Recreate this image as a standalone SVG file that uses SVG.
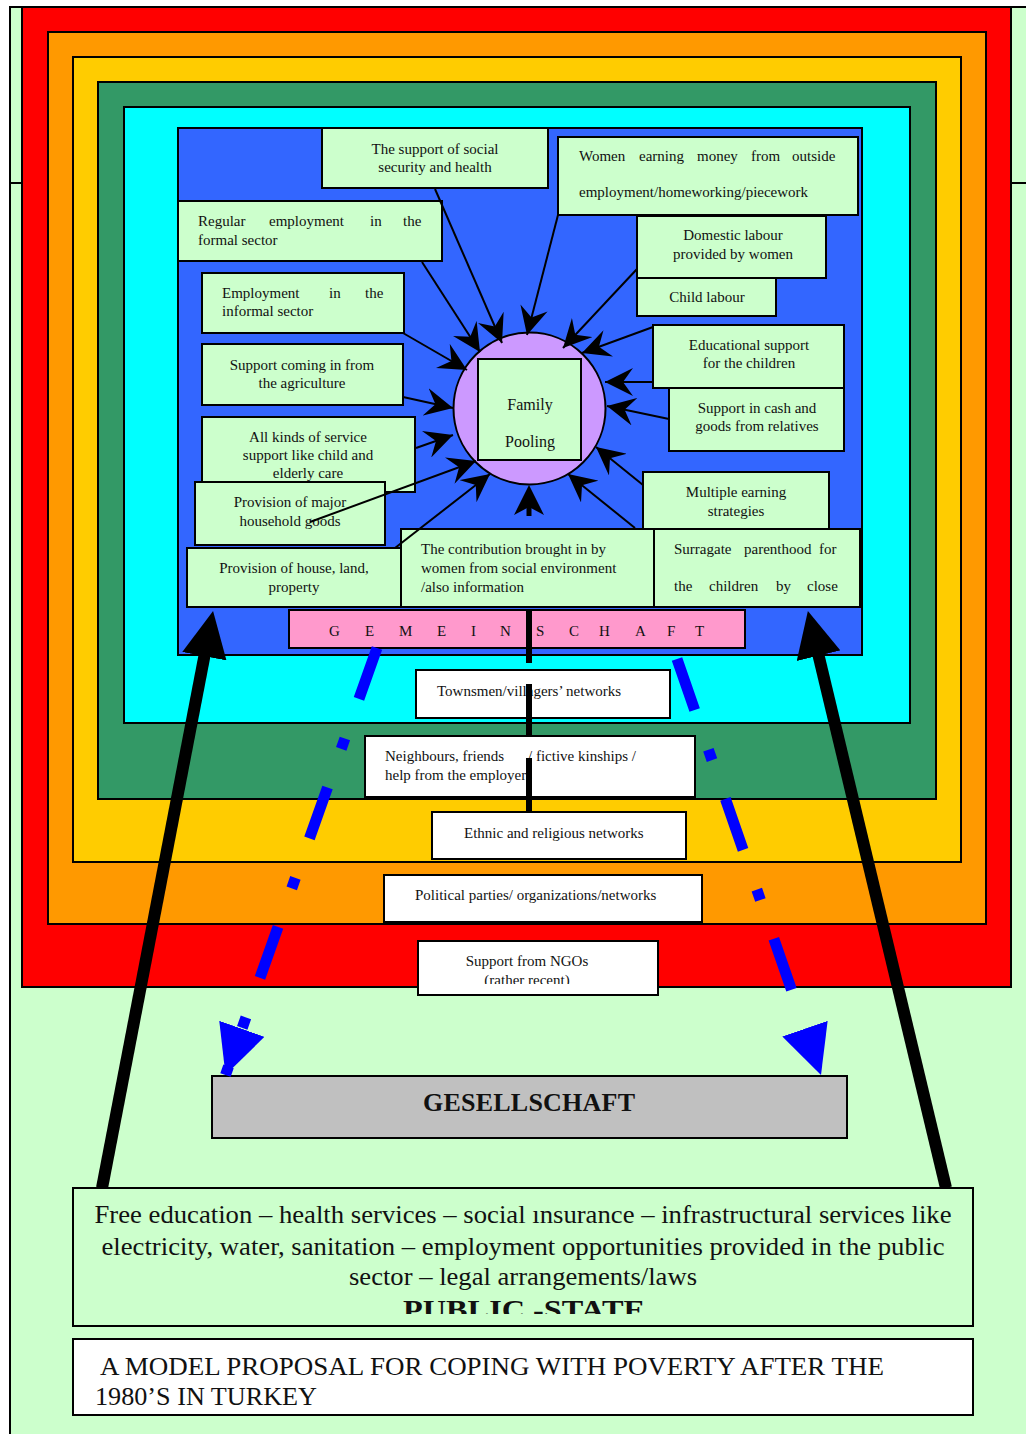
<svg xmlns="http://www.w3.org/2000/svg" width="1026" height="1434" viewBox="0 0 1026 1434">
<style>
.bx{fill:#CCFFCC;stroke:#000;stroke-width:2}
.wb{fill:#fff;stroke:#000;stroke-width:2}
.ring{stroke:#000;stroke-width:2}
.t{font-family:"Liberation Serif","Times New Roman",serif;font-size:15px;fill:#111}
.c{text-anchor:middle}
.f16{font-size:16px}
.big{font-size:25px}
.hd{font-size:26px;font-weight:bold}
.ps{font-size:28px;font-weight:bold}
.ln{stroke:#000;stroke-width:2;fill:none}
.bd{stroke:#0000FF;stroke-width:11;fill:none;stroke-dasharray:54 42 11 41}
.bk{stroke:#000;stroke-width:12;fill:none}
</style>
<defs>
<marker id="ah" markerUnits="userSpaceOnUse" viewBox="0 0 28 28" markerWidth="28" markerHeight="28" refX="28" refY="14" orient="auto"><path d="M0,0 L28,14 L0,28 L10,14 z" fill="#000"/></marker>
<marker id="ah2" markerUnits="userSpaceOnUse" viewBox="0 0 30 30" markerWidth="30" markerHeight="30" refX="10" refY="15" orient="auto"><path d="M0,0 L30,15 L0,30 L8,15 z" fill="#000"/></marker>
<marker id="bah" markerUnits="userSpaceOnUse" viewBox="0 0 49 48" markerWidth="49" markerHeight="48" refX="49" refY="24" orient="auto"><path d="M0,0 L49,24 L0,48 z" fill="#0000FF"/></marker>
<marker id="kah" markerUnits="userSpaceOnUse" viewBox="0 0 46 45" markerWidth="46" markerHeight="45" refX="6" refY="22.5" orient="auto"><path d="M0,0 L46,22.5 L0,45 z" fill="#000"/></marker>
<clipPath id="ngoclip"><rect x="418" y="941" width="240" height="43"/></clipPath>
<clipPath id="pubclip"><rect x="73" y="1188" width="900" height="126"/></clipPath>
</defs>

<g id="page">
<rect x="10" y="7" width="1020" height="1430" fill="#CCFFCC" stroke="#000" stroke-width="2"/>
<line x1="10" y1="183" x2="22" y2="183" stroke="#000" stroke-width="2"/>
<line x1="1011" y1="183" x2="1026" y2="183" stroke="#000" stroke-width="2"/>
</g>

<g id="rings">
<rect class="ring" x="22" y="7" width="989" height="980" fill="#FF0000"/>
<rect class="ring" x="48" y="32" width="938" height="892" fill="#FF9900"/>
<rect class="ring" x="73" y="57" width="888" height="805" fill="#FFCC00"/>
<rect class="ring" x="98" y="82" width="838" height="717" fill="#339966"/>
<rect class="ring" x="124" y="107" width="786" height="616" fill="#00FFFF"/>
<rect class="ring" x="178" y="128" width="684" height="527" fill="#3366FF"/>
</g>

<g id="gemeinschaft">
<rect x="289" y="610" width="456" height="38" fill="#FF99CC" stroke="#000" stroke-width="2"/>
<text class="t" x="329 365 399 437 471 500 536 569 599 635 667 695" y="636">GEMEINSCHAFT</text>
</g>

<g id="family-pooling">
<circle cx="529.5" cy="408.5" r="76" fill="#CC99FF" stroke="#000" stroke-width="2"/>
<rect class="bx" x="478" y="359" width="103" height="101"/>
<text class="t c f16" x="530" y="410">Family</text>
<text class="t c f16" x="530" y="447">Pooling</text>
</g>

<g id="n-social">
<rect class="bx" x="322" y="128" width="226" height="60"/>
<text class="t c" x="435" y="154">The support of social</text>
<text class="t c" x="435" y="172">security  and health</text>
</g>
<g id="n-regular">
<rect class="bx" x="178" y="201" width="264" height="60"/>
<text class="t" y="226"><tspan x="198">Regular</tspan><tspan x="269">employment</tspan><tspan x="370">in</tspan><tspan x="403">the</tspan></text>
<text class="t" x="198" y="245">formal sector</text>
</g>
<g id="n-informal">
<rect class="bx" x="202" y="273" width="202" height="60"/>
<text class="t" y="298"><tspan x="222">Employment</tspan><tspan x="329">in</tspan><tspan x="365">the</tspan></text>
<text class="t" x="222" y="316">informal sector</text>
</g>
<g id="n-agri">
<rect class="bx" x="202" y="344" width="201" height="61"/>
<text class="t c" x="302" y="370">Support coming in from</text>
<text class="t c" x="302" y="388">the agriculture</text>
</g>
<g id="n-allkinds">
<rect class="bx" x="202" y="417" width="213" height="75"/>
<text class="t c" x="308" y="442">All  kinds of  service</text>
<text class="t c" x="308" y="460">support like child and</text>
<text class="t c" x="308" y="478">elderly care</text>
</g>
<g id="n-household">
<rect class="bx" x="195" y="482" width="190" height="63"/>
<text class="t c" x="290" y="507">Provision of major</text>
<text class="t c" x="290" y="526">household  goods</text>
</g>
<g id="n-house">
<rect class="bx" x="187" y="548" width="214" height="59"/>
<text class="t c" x="294" y="573">Provision of house, land,</text>
<text class="t c" x="294" y="592">property</text>
</g>
<g id="n-contribution">
<rect class="bx" x="401" y="529" width="253" height="78"/>
<text class="t" x="421" y="554">The contribution brought in by</text>
<text class="t" x="421" y="573">women from social environment</text>
<text class="t" x="421" y="592">/also information</text>
</g>
<g id="n-surragate">
<rect class="bx" x="654" y="529" width="206" height="78"/>
<text class="t" y="554"><tspan x="674">Surragate</tspan><tspan x="744">parenthood</tspan><tspan x="819">for</tspan></text>
<text class="t" y="591"><tspan x="674">the</tspan><tspan x="709">children</tspan><tspan x="776">by</tspan><tspan x="807">close</tspan></text>
</g>
<g id="n-multiple">
<rect class="bx" x="643" y="472" width="186" height="57"/>
<text class="t c" x="736" y="497">Multiple earning</text>
<text class="t c" x="736" y="516">strategies</text>
</g>
<g id="n-cash">
<rect class="bx" x="669" y="388" width="175" height="63"/>
<text class="t c" x="757" y="413">Support in cash and</text>
<text class="t c" x="757" y="431">goods from relatives</text>
</g>
<g id="n-educational">
<rect class="bx" x="653" y="325" width="191" height="63"/>
<text class="t c" x="749" y="350">Educational support</text>
<text class="t c" x="749" y="368">for the children</text>
</g>
<g id="n-child">
<rect class="bx" x="637" y="278" width="139" height="38"/>
<text class="t c" x="707" y="302">Child labour</text>
</g>
<g id="n-domestic">
<rect class="bx" x="637" y="216" width="189" height="62"/>
<text class="t c" x="733" y="240">Domestic labour</text>
<text class="t c" x="733" y="259">provided by women</text>
</g>
<g id="n-women">
<rect class="bx" x="558" y="137" width="300" height="78"/>
<text class="t" y="161"><tspan x="579">Women</tspan><tspan x="639">earning</tspan><tspan x="697">money</tspan><tspan x="751">from</tspan><tspan x="792">outside</tspan></text>
<text class="t" x="579" y="197">employment/homeworking/piecework</text>
</g>

<g id="n-townsmen">
<rect class="wb" x="416" y="670" width="254" height="48"/>
<text class="t" x="437" y="696">Townsmen/villagers’ networks</text>
</g>
<g id="n-neighbours">
<rect class="wb" x="365" y="736" width="330" height="61"/>
<text class="t" y="761"><tspan x="385">Neighbours, friends</tspan><tspan x="528">/ fictive kinships /</tspan></text>
<text class="t" x="385" y="780">help from the employers</text>
</g>
<g id="n-ethnic">
<rect class="wb" x="432" y="812" width="254" height="47"/>
<text class="t" x="464" y="838">Ethnic and religious networks</text>
</g>
<g id="n-political">
<rect class="wb" x="384" y="875" width="318" height="47"/>
<text class="t" x="415" y="900">Political parties/ organizations/networks</text>
</g>
<g id="n-ngo">
<rect class="wb" x="418" y="941" width="240" height="54"/>
<g clip-path="url(#ngoclip)">
<text class="t c" x="527" y="966">Support from NGOs</text>
<text class="t c" x="527" y="985">(rather  recent)</text>
</g>
</g>

<g id="n-gesellschaft">
<rect x="212" y="1076" width="635" height="62" fill="#C0C0C0" stroke="#000" stroke-width="2"/>
<text class="t c hd" x="529" y="1111" textLength="212" lengthAdjust="spacing">GESELLSCHAFT</text>
</g>

<g id="connectors">
<line class="ln" x1="435" y1="189" x2="502" y2="343" marker-end="url(#ah)"/>
<line class="ln" x1="422" y1="262" x2="480" y2="352" marker-end="url(#ah)"/>
<line class="ln" x1="403" y1="333" x2="467" y2="370" marker-end="url(#ah)"/>
<line class="ln" x1="403" y1="397" x2="453" y2="408" marker-end="url(#ah)"/>
<line class="ln" x1="416" y1="448" x2="453" y2="435" marker-end="url(#ah)"/>
<line class="ln" x1="310" y1="522" x2="476" y2="461" marker-end="url(#ah)"/>
<line class="ln" x1="395" y1="548" x2="490" y2="474" marker-end="url(#ah)"/>
<line class="ln" x1="635" y1="528" x2="568" y2="474" marker-end="url(#ah)"/>
<line class="ln" x1="643" y1="485" x2="596" y2="447" marker-end="url(#ah)"/>
<line class="ln" x1="669" y1="419" x2="607" y2="406" marker-end="url(#ah)"/>
<line class="ln" x1="653" y1="382" x2="605" y2="382" marker-end="url(#ah)"/>
<line class="ln" x1="653" y1="327" x2="582" y2="353" marker-end="url(#ah)"/>
<line class="ln" x1="637" y1="269" x2="563" y2="348" marker-end="url(#ah)"/>
<line class="ln" x1="558" y1="215" x2="527" y2="335" marker-end="url(#ah)"/>
<line x1="529" y1="516" x2="529" y2="505" stroke="#000" stroke-width="5" marker-end="url(#ah2)"/>
<path d="M529,610 V811" stroke="#000" stroke-width="6" stroke-dasharray="53 21" fill="none"/>
<path class="bd" d="M377,648 L225.5,1075" marker-end="url(#bah)"/>
<path class="bd" d="M677,659 L821,1075" marker-end="url(#bah)"/>
<path class="bk" d="M102,1188 L205.5,650.3" marker-end="url(#kah)"/>
<path class="bk" d="M946,1188 L817.2,649.9" marker-end="url(#kah)"/>
</g>

<g id="n-public">
<rect class="bx" x="73" y="1188" width="900" height="138"/>
<g clip-path="url(#pubclip)">
<text class="t c big" x="523" y="1223" textLength="857" lengthAdjust="spacingAndGlyphs">Free education – health services – social ınsurance – infrastructural services like</text>
<text class="t c big" x="523" y="1255" textLength="843" lengthAdjust="spacingAndGlyphs">electricity, water, sanitation – employment opportunities provided in the public</text>
<text class="t c big" x="523" y="1285" textLength="348" lengthAdjust="spacingAndGlyphs">sector – legal arrangements/laws</text>
<text class="t c ps" x="524" y="1319" textLength="242" lengthAdjust="spacingAndGlyphs">PUBLIC -STATE</text>
</g>
</g>

<g id="n-title">
<rect class="wb" x="73" y="1339" width="900" height="76"/>
<text class="t big" x="100" y="1375" textLength="784" lengthAdjust="spacingAndGlyphs">A MODEL PROPOSAL FOR COPING WITH POVERTY AFTER THE</text>
<text class="t big" x="95" y="1405" textLength="222" lengthAdjust="spacingAndGlyphs">1980’S IN TURKEY</text>
</g>
</svg>
